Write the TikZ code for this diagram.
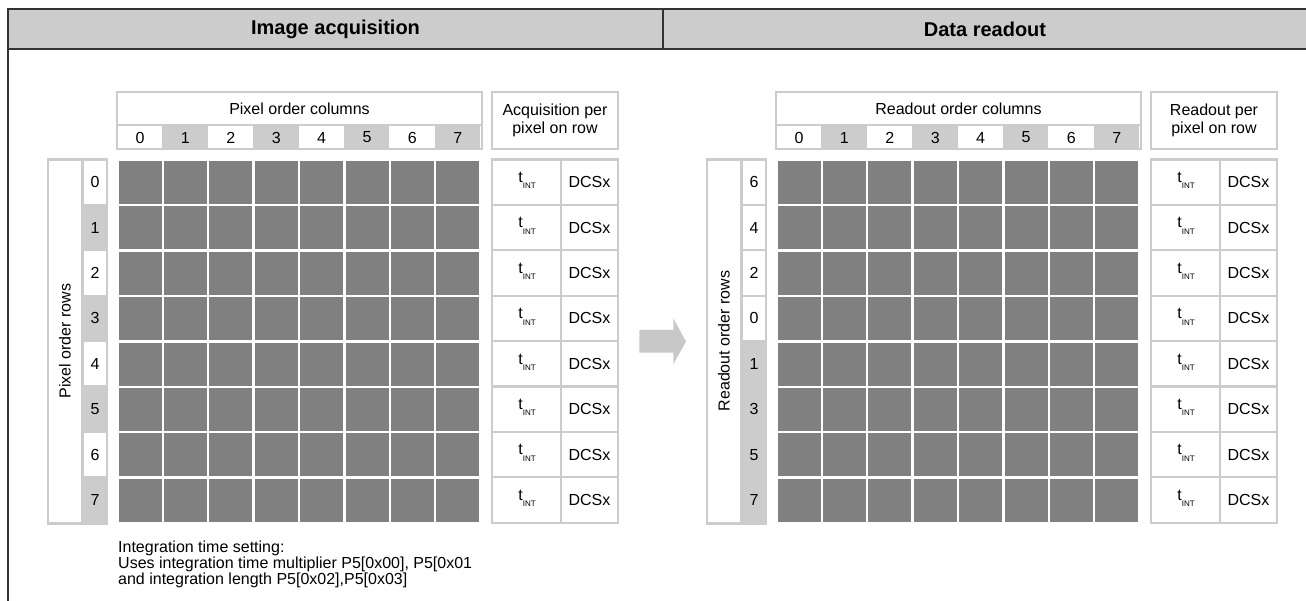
\documentclass[tikz,border=0pt]{standalone}
\usepackage{fontspec}
\setmainfont{Liberation Sans}
\definecolor{lgray}{HTML}{CCCCCC}
\definecolor{dgray}{HTML}{808080}
\definecolor{bargray}{HTML}{CCCCCC}
\definecolor{darkline}{HTML}{333333}
\definecolor{arrowgray}{HTML}{C8C8C8}
\newcommand\tsub{t\raisebox{-6.5pt}{\fontsize{8}{8}\selectfont INT}}
\newcommand\mypanel[6]{%
\begin{scope}[xshift=#2]
  % column header
  \fill[white] (117,92) rectangle (482,149);
  \foreach \c in {1,3,5,7} \fill[lgray] ({117+45.4*\c},125) rectangle ({117+45.4*(\c+1)},149);
  \draw[lg] (117,92) rectangle (482,149);
  \draw[lg] (117,125) -- (482,125);
  \foreach \c in {0,...,7} \node[lbl] (#1c\c) at ({118.5+45.4*\c+21.5},137.5) {\c};
  \node[lbl] (#1ct) at (299.5,108.5) {#3};
  % per pixel header
  \draw[lg, fill=white] (492,92) rectangle (618,149);
  \node[lbl, align=center, font=\fontsize{16}{17.7}\selectfont] (#1pt) at (555,120.5) {#4};
  % table
  \draw[lg, fill=white] (492,159.5) rectangle (618,523);
  \draw[lg] (561,159.5) -- (561,523);
  \foreach \r in {1,...,7} \draw[lg] (492,{159.5+45.4*\r}) -- (618,{159.5+45.4*\r});
  \foreach \r in {0,...,7} {
    \node[lbl] (#1t\r) at (527,{180.5+45.4*\r}) {\tsub};
    \node[lbl] (#1d\r) at (589.5,{182.2+45.4*\r}) {DCSx};
  }
  % pixel grid
  \foreach \r in {0,...,7} \foreach \c in {0,...,7}
    \fill[dgray] ({118.5+45.4*\c},{161+45.4*\r}) rectangle +(43,43);
  % row label frame
  \fill[white] (48,159.5) rectangle (107,523.5);
  \foreach \v [count=\i from 0] in {#6} {
    \ifodd\v\relax
      \fill[lgray] (82.5,{159.5+45.4*\i}) rectangle (107,{159.5+45.4*(\i+1)});
    \fi
    \node[lbl] (#1r\i) at (95,{182.2+45.4*\i}) {\v};
  }
  \draw[lg] (48,159.5) rectangle (107,523.5);
  \draw[lg] (82.5,159.5) -- (82.5,523.5);
  \foreach \r in {1,...,7} \draw[lg] (82.5,{159.5+45.4*\r}) -- (107,{159.5+45.4*\r});
  \node[lbl, rotate=90] (#1rt) at (65,341) {#5};
\end{scope}}
\begin{document}
\begin{tikzpicture}[x=1pt,y=-1pt,
  lg/.style={draw=lgray, line width=2.3pt},
  lbl/.style={inner sep=0pt, font=\fontsize{16}{17}\selectfont, text=black},
  ttl/.style={inner sep=0pt, font=\fontsize{20}{22}\selectfont\bfseries, text=black}]
\useasboundingbox (0,0) rectangle (1306,601);
% title bar
\draw[fill=bargray, draw=darkline, line width=2pt] (8,9.5) rectangle (1312,49);
\draw[darkline, line width=2pt] (663,9.5) -- (663,49);
\draw[darkline, line width=2pt] (8,9.5) -- (8,601);
\node[ttl] (title1) at (335.5,29.5) {Image acquisition};
\node[ttl] (title2) at (985,29.5) {Data readout};
% panels
\mypanel{L}{0}{Pixel order columns}{Acquisition per\\pixel on row}{Pixel order rows}{0,1,2,3,4,5,6,7}
\mypanel{R}{659}{Readout order columns}{Readout per\\pixel on row}{Readout order rows}{6,4,2,0,1,3,5,7}
% arrow
\fill[arrowgray] (639.3,330) -- (673.3,330) -- (673.3,318.3) -- (686,341.5) -- (673.3,364.3) -- (673.3,352.7) -- (639.3,352.7) -- cycle;
% note
\node[lbl, anchor=north west, align=left, font=\fontsize{16}{16}\selectfont] (note) at (118,540.3)
  {Integration time setting:\\Uses integration time multiplier P5[0x00], P5[0x01\\and integration length P5[0x02],P5[0x03]};
\end{tikzpicture}
\end{document}
